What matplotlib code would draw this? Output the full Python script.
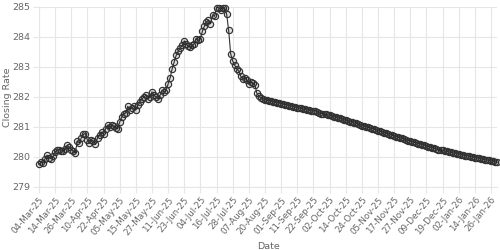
import matplotlib
matplotlib.use("Agg")
import matplotlib.pyplot as plt

# trading days (categories), month by month
months = ["Mar-25", "Apr-25", "May-25", "Jun-25", "Jul-25", "Aug-25",
          "Sep-25", "Oct-25", "Nov-25", "Dec-25", "Jan-26"]
days = [
    [4, 5, 6, 7, 10, 11, 12, 13, 14, 17, 18, 19, 20, 21, 24, 25, 26, 27, 28],
    [3, 4, 7, 8, 9, 10, 11, 14, 15, 16, 17, 18, 21, 22, 23, 24, 25, 28, 29, 30],
    [2, 5, 6, 7, 8, 9, 12, 13, 14, 15, 16, 19, 20, 21, 22, 23, 26, 27, 29, 30],
    [2, 3, 4, 5, 10, 11, 12, 13, 16, 17, 18, 19, 20, 23, 24, 25, 26, 27, 30],
    [2, 3, 4, 7, 8, 9, 10, 11, 14, 15, 16, 17, 18, 21, 22, 23, 24, 25, 28, 29, 30, 31],
    [1, 4, 5, 6, 7, 8, 11, 12, 13, 15, 18, 19, 20, 21, 22, 25, 26, 27, 28, 29],
    [1, 2, 3, 4, 5, 8, 9, 10, 11, 12, 13, 15, 16, 17, 18, 19, 22, 23, 24, 25, 26, 29, 30],
    [1, 2, 3, 6, 7, 8, 9, 10, 13, 14, 15, 16, 17, 20, 21, 22, 23, 24, 27, 28, 29, 30, 31],
    [3, 4, 5, 6, 7, 10, 11, 12, 13, 14, 17, 18, 19, 20, 21, 24, 25, 26, 27, 28],
    [1, 2, 3, 4, 5, 8, 9, 10, 11, 12, 15, 16, 17, 18, 19, 22, 23, 24, 26, 29, 30, 31],
    [2, 5, 6, 7, 8, 9, 12, 13, 14, 15, 16, 19, 20, 21, 22, 23, 26, 27, 28, 29],
]
dates = [f"{d:02d}-{m}" for m, ds in zip(months, days) for d in ds]

closing_rate = [
    279.76, 279.83, 279.81, 279.94, 280.06, 279.98, 279.95, 280.02,
    280.17, 280.22, 280.25, 280.20, 280.20, 280.28, 280.39, 280.33,
    280.25, 280.20, 280.13, 280.53, 280.47, 280.64, 280.76, 280.78,
    280.56, 280.47, 280.58, 280.53, 280.42, 280.64, 280.72, 280.83,
    280.78, 280.94, 281.06, 281.00, 281.06, 281.02, 280.98, 280.94,
    281.17, 281.33, 281.44, 281.47, 281.69, 281.58, 281.64, 281.69,
    281.58, 281.72, 281.83, 281.94, 282.00, 282.06, 281.94, 282.00,
    282.17, 282.06, 282.00, 281.93, 282.06, 282.22, 282.17, 282.22,
    282.44, 282.64, 282.94, 283.17, 283.39, 283.53, 283.64, 283.72,
    283.87, 283.78, 283.69, 283.67, 283.72, 283.78, 283.94, 283.89,
    283.94, 284.20, 284.36, 284.50, 284.56, 284.44, 284.72, 284.69,
    284.98, 284.98, 284.91, 284.98, 284.98, 284.76, 284.22, 283.44,
    283.20, 283.06, 282.94, 282.87, 282.69, 282.61, 282.64, 282.56,
    282.44, 282.50, 282.46, 282.40, 282.12, 282.02, 281.98, 281.95,
    281.91, 281.89, 281.88, 281.86, 281.84, 281.83, 281.81, 281.80,
    281.78, 281.76, 281.75, 281.73, 281.71, 281.70, 281.68, 281.66,
    281.65, 281.63, 281.62, 281.60, 281.59, 281.57, 281.56, 281.54,
    281.53, 281.55, 281.50, 281.47, 281.45, 281.44, 281.42, 281.41,
    281.39, 281.37, 281.35, 281.33, 281.31, 281.29, 281.27, 281.25,
    281.22, 281.20, 281.18, 281.16, 281.14, 281.12, 281.10, 281.07,
    281.05, 281.03, 281.01, 280.99, 280.97, 280.95, 280.93, 280.91,
    280.88, 280.86, 280.84, 280.81, 280.79, 280.77, 280.75, 280.72,
    280.70, 280.68, 280.66, 280.64, 280.62, 280.60, 280.57, 280.55,
    280.53, 280.51, 280.49, 280.47, 280.45, 280.43, 280.41, 280.39,
    280.37, 280.35, 280.33, 280.31, 280.29, 280.27, 280.25, 280.23,
    280.22, 280.20, 280.19, 280.17, 280.16, 280.14, 280.13, 280.11,
    280.10, 280.08, 280.07, 280.05, 280.04, 280.03, 280.01, 280.00,
    279.98, 279.97, 279.96, 279.94, 279.93, 279.91, 279.90, 279.89,
    279.87, 279.86, 279.84, 279.82,
]

y_ticks = [279, 280, 281, 282, 283, 284, 285]
label_step = 8

grid_c = "#e6e6e6"
text_c = "#666666"

fig = plt.figure(figsize=(5, 2.5), dpi=100)
ax = fig.add_axes([0.078, 0.252, 0.916, 0.72])

x = list(range(len(dates)))
ax.plot(x, closing_rate, color="#333333", linewidth=0.8,
        marker="o", markersize=4.5, markerfacecolor=(0, 0, 0, 0.12),
        markeredgecolor="#333333", markeredgewidth=0.85, clip_on=False, zorder=3)

ax.set_xlim(0, len(dates) - 1)
ax.set_ylim(y_ticks[0], y_ticks[-1])
ax.set_yticks(y_ticks)
tick_pos = x[::label_step]
ax.set_xticks(tick_pos)
ax.set_xticklabels([dates[i] for i in tick_pos], rotation=50,
                   ha="right", rotation_mode="anchor")

ax.grid(True, color=grid_c, linewidth=0.8)
ax.set_axisbelow(True)
for s in ["top", "right"]:
    ax.spines[s].set_visible(False)
for s in ["left", "bottom"]:
    ax.spines[s].set_color(grid_c)
    ax.spines[s].set_linewidth(0.8)
ax.tick_params(axis="both", colors=grid_c, length=4, width=0.8,
               labelcolor=text_c, labelsize=6.8, pad=2)
ax.tick_params(axis="x", labelsize=6.3)

ax.set_ylabel("Closing Rate", color=text_c, fontsize=6.8)
ax.yaxis.set_label_coords(-0.060, 0.5)
ax.set_xlabel("Date", color=text_c, fontsize=6.8, labelpad=4)

fig.savefig("out.png", dpi=100)
